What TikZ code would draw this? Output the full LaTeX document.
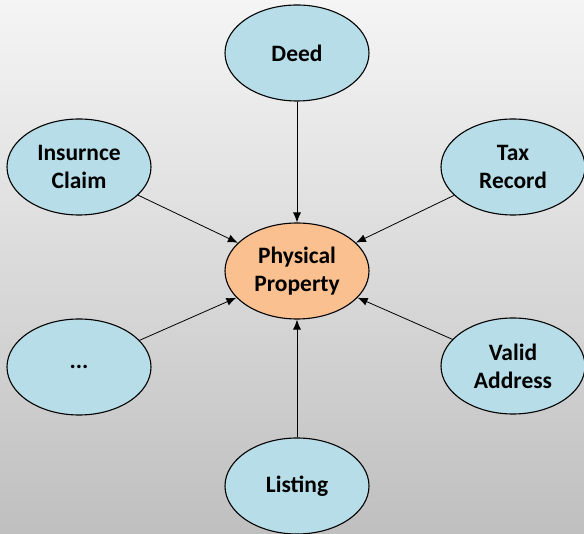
\documentclass[tikz,border=0pt]{standalone}
\usepackage{fontspec}
\setmainfont{Carlito}
\usetikzlibrary{shapes.geometric,arrows.meta}
\definecolor{nodeblue}{HTML}{B7DEE8}
\definecolor{nodeorange}{HTML}{FAC090}
\tikzset{
  x=1pt, y=-1pt,
  oval/.style={ellipse, draw=black, line width=1.1pt, fill=nodeblue,
    minimum width=144pt, minimum height=96pt, inner sep=0pt, align=center,
    font=\fontsize{23.5}{28}\selectfont\bfseries},
  hub/.style={oval, fill=nodeorange},
  link/.style={-{Latex[length=10pt,width=8pt]}, line width=0.8pt, black}
}
\begin{document}
\begin{tikzpicture}
\shade[top color=white!96!black, bottom color=black!25] (0,0) rectangle (584,534);
\useasboundingbox (0,0) rectangle (584,534);
\node[hub] (pp) at (297,271) {Physical\\Property};
\node[oval] (deed) at (297,53) {Deed};
\node[oval] (ins) at (79,167) {Insurnce\\Claim};
\node[oval] (tax) at (513,167) {Tax\\Record};
\node[oval] (dots) at (79,367) {...};
\node[oval] (addr) at (513,366) {Valid\\Address};
\node[oval] (list) at (297,486) {Listing};
\draw[link] (deed) -- (pp);
\draw[link] (ins) -- (pp);
\draw[link] (tax) -- (pp);
\draw[link] (dots) -- (pp);
\draw[link] (addr) -- (pp);
\draw[link] (list) -- (pp);
\end{tikzpicture}
\end{document}
